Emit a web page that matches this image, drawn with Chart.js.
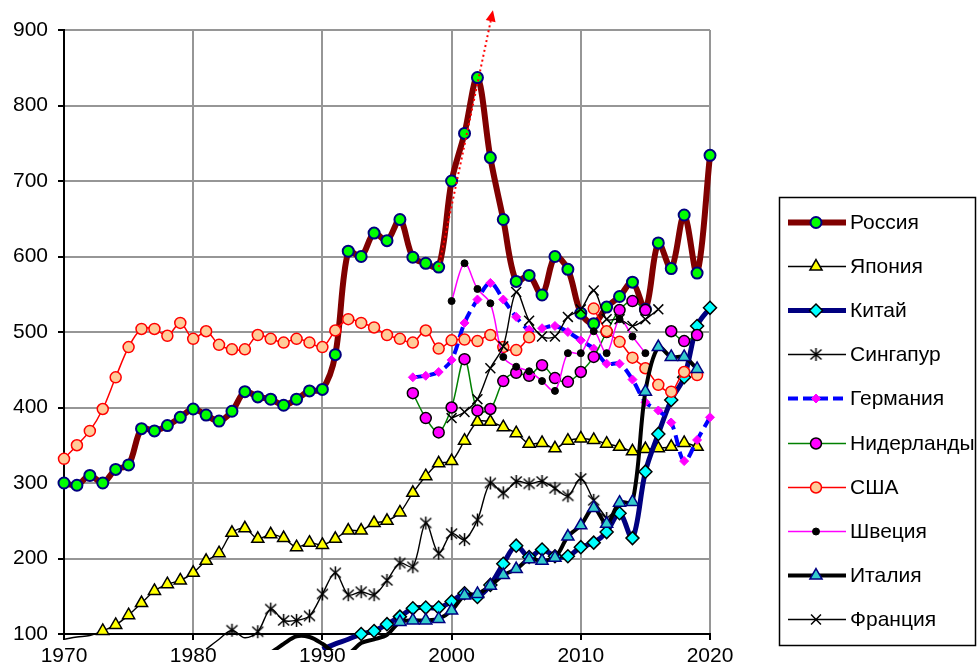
<!DOCTYPE html>
<html>
<head>
<meta charset="utf-8">
<script src="https://cdn.jsdelivr.net/npm/chart.js@4/dist/chart.umd.min.js"></script>
<style>
  body { margin: 0; background: #fff; }
  #wrap { width: 978px; height: 671px; }
</style>
</head>
<body>
<div id="wrap"><canvas id="chart" width="978" height="671"></canvas></div>
<script>
const years = [1970,1971,1972,1973,1974,1975,1976,1977,1978,1979,
  1980,1981,1982,1983,1984,1985,1986,1987,1988,1989,
  1990,1991,1992,1993,1994,1995,1996,1997,1998,1999,
  2000,2001,2002,2003,2004,2005,2006,2007,2008,2009,
  2010,2011,2012,2013,2014,2015,2016,2017,2018,2019,2020];

const names = ['Россия','Япония','Китай','Сингапур','Германия','Нидерланды','США','Швеция','Италия','Франция'];

// values per year, 1970..2020 (null = no data)
const russia = [300,297,310,300,318,324,372,369,376,387,
  398,390,382,395,421,414,411,403,411,422,
  424,470,607,600,631,621,649,599,591,586,
  700,763,837,731,649,567,575,549,600,583,
  525,511,533,547,566,530,618,584,655,578,734];
const japan = [93,96,98,104,112,125,141,157,166,171,
  181,197,207,234,240,226,232,227,215,221,
  218,226,237,237,247,250,261,287,309,326,
  329,356,381,381,374,366,352,353,346,356,
  359,357,352,348,342,345,346,348,353,348,null];
const china = [null,null,null,null,null,null,null,null,null,null,
  null,null,null,null,null,null,null,null,null,null,
  80,87,93,100,104,113,123,134,135,135,
  143,154,149,165,193,217,202,212,203,203,
  215,221,235,260,227,315,365,410,440,508,532];
const singapore = [null,null,null,null,null,null,null,null,null,null,
  null,80,93,105,95,103,133,118,118,124,
  153,181,152,156,152,171,194,189,247,207,
  233,225,251,300,287,302,299,302,293,283,
  306,277,253,null,null,null,null,null,null,null,null];
const germany = [null,null,null,null,null,null,null,null,null,null,
  null,null,null,null,null,null,null,null,null,null,
  null,null,null,null,null,null,null,440,442,447,
  463,512,543,565,543,520,503,505,508,500,
  489,478,458,458,437,407,396,380,329,357,387];
const netherlands = [null,null,null,null,null,null,null,null,null,null,
  null,null,null,null,null,null,null,null,null,null,
  null,null,null,null,null,null,null,419,386,367,
  400,464,396,398,435,446,442,456,439,434,
  447,467,500,529,541,529,null,501,488,496,null];
const usa = [332,350,369,398,440,480,504,504,495,512,
  491,501,483,477,477,496,491,486,491,486,
  480,502,517,512,506,496,491,486,502,478,
  489,490,488,496,480,476,493,null,null,null,
  null,531,501,487,466,452,430,421,447,443,null];
const sweden = [null,null,null,null,null,null,null,null,null,null,
  null,null,null,null,null,null,null,null,null,null,
  null,null,null,null,null,null,null,null,null,null,
  541,591,557,538,467,454,448,435,422,472,
  472,501,472,517,494,472,null,null,null,null,null];
const italy = [null,null,null,null,null,null,null,null,null,null,
  null,null,null,null,null,null,75,87,97,96,
  87,75,74,88,93,99,116,118,118,120,
  131,151,153,164,178,186,199,197,201,229,
  244,267,246,274,275,421,480,467,467,451,null];
const france = [null,null,null,null,null,null,null,null,null,null,
  null,null,null,null,null,null,null,null,null,null,
  null,null,null,null,null,null,null,null,null,null,
  386,394,411,452,481,553,515,494,494,520,
  530,555,517,517,508,517,530,null,null,null,null];

// dotted red trend arrow (from Russia 1999 upwards)
const trendStart = [1999, 586];
const trendEnd = [2003.2, 926];

const yTicks = [100, 900, 100];   // min, max, step
const xTicks = [1970, 2020, 10];

// Singapore asterisk marker
function asterisk() {
  const c = document.createElement('canvas');
  c.width = 15; c.height = 15;
  const g = c.getContext('2d');
  g.strokeStyle = '#000'; g.lineWidth = 1.5;
  g.beginPath();
  g.moveTo(7.5, 1); g.lineTo(7.5, 14);
  g.moveTo(2, 2.5); g.lineTo(13, 12.5);
  g.moveTo(13, 2.5); g.lineTo(2, 12.5);
  g.stroke();
  return c;
}
const starImg = asterisk();

const styles = [
  {line:'#800000', w:6,   style:'circle',   r:5.5, fill:'#00ff00', edge:'#000080', ew:2},
  {line:'#000000', w:1.4, style:'triangle', r:7,   fill:'#ffff00', edge:'#000000', ew:1.5},
  {line:'#000080', w:5,   style:'rectRot',  r:6.5, fill:'#00ffff', edge:'#000000', ew:1.5},
  {line:'#000000', w:1.4, style:starImg,    r:7,   fill:'#000000', edge:'#000000', ew:1},
  {line:'#0000ff', w:4,   style:'rectRot',  r:4.5, fill:'#ff00ff', edge:'#ff00ff', ew:1, dash:[11,6]},
  {line:'#008000', w:1.5, style:'circle',   r:5.5, fill:'#ff00ff', edge:'#000000', ew:1.5},
  {line:'#ff0000', w:1.5, style:'circle',   r:5.5, fill:'#ffcc99', edge:'#ff0000', ew:1.5},
  {line:'#ff00ff', w:1.5, style:'circle',   r:3.5, fill:'#000000', edge:'#000000', ew:1},
  {line:'#000000', w:4,   style:'triangle', r:7,   fill:'#33cccc', edge:'#000080', ew:1.5},
  {line:'#000000', w:1.4, style:'crossRot', r:7,   fill:'#000000', edge:'#000000', ew:1.5}
];
const values = [russia, japan, china, singapore, germany, netherlands, usa, sweden, italy, france];

const FONT = '"Liberation Sans", Arial, sans-serif';

const datasets = values.map((vals, i) => {
  const s = styles[i];
  return {
    label: names[i],
    data: years.map((yr, k) => ({x: yr, y: vals[k]})),
    borderColor: s.line,
    borderWidth: s.w,
    borderDash: s.dash || [],
    pointStyle: s.style,
    pointRadius: ctx => (ctx.raw && ctx.raw.y !== null && ctx.raw.y < yTicks[0]) ? 0 : s.r,
    pointBackgroundColor: s.fill,
    pointBorderColor: s.edge,
    pointBorderWidth: s.ew,
    tension: 0.33,
    spanGaps: false,
    fill: false,
    order: -i,
    clip: {left: 8, top: 8, right: 8, bottom: 16}
  };
});

const legendPlugin = {
  id: 'boxLegend',
  afterDraw(chart) {
    const ctx = chart.ctx;
    ctx.save();
    ctx.strokeStyle = '#000';
    ctx.lineWidth = 1.5;
    ctx.strokeRect(779.5, 197.5, 196, 448);
    ctx.font = '21px ' + FONT;
    ctx.textBaseline = 'middle';
    ctx.fillStyle = '#000';
    styles.forEach((s, i) => {
      const y = Math.round(222 + i * 44.1) + 0.5;
      ctx.strokeStyle = s.line;
      ctx.lineWidth = s.w < 2 ? 1.5 : s.w;
      ctx.setLineDash(s.dash ? [10, 5] : []);
      ctx.beginPath(); ctx.moveTo(788, y); ctx.lineTo(846, y); ctx.stroke();
      ctx.setLineDash([]);
      ctx.fillStyle = s.fill;
      ctx.strokeStyle = s.edge;
      ctx.lineWidth = s.ew;
      Chart.helpers.drawPoint(ctx, {pointStyle: s.style, radius: s.r, rotation: 0, borderWidth: s.ew}, 816, y);
      ctx.fillStyle = '#000';
      ctx.fillText(names[i], 850, y + 1);
    });
    ctx.restore();
  }
};

const arrowPlugin = {
  id: 'trendArrow',
  afterDatasetsDraw(chart) {
    const {x, y} = chart.scales;
    const ctx = chart.ctx;
    const x0 = x.getPixelForValue(trendStart[0]), y0 = y.getPixelForValue(trendStart[1]);
    const x1 = x.getPixelForValue(trendEnd[0]), y1 = y.getPixelForValue(trendEnd[1]);
    const ang = Math.atan2(y1 - y0, x1 - x0);
    const head = 11;
    const bx = x1 - head * Math.cos(ang), by = y1 - head * Math.sin(ang);
    ctx.save();
    ctx.strokeStyle = '#ff0000';
    ctx.fillStyle = '#ff0000';
    ctx.lineWidth = 2;
    ctx.setLineDash([2, 3]);
    ctx.beginPath(); ctx.moveTo(x0, y0); ctx.lineTo(bx, by); ctx.stroke();
    ctx.setLineDash([]);
    ctx.beginPath();
    ctx.moveTo(x1, y1);
    ctx.lineTo(bx + 5 * Math.sin(ang), by - 5 * Math.cos(ang));
    ctx.lineTo(bx - 5 * Math.sin(ang), by + 5 * Math.cos(ang));
    ctx.closePath(); ctx.fill();
    ctx.restore();
  }
};

new Chart(document.getElementById('chart'), {
  type: 'line',
  data: {datasets},
  plugins: [arrowPlugin, legendPlugin],
  options: {
    responsive: false,
    animation: false,
    layout: {padding: {top: 30, right: 268, left: 0, bottom: 0}},
    plugins: {legend: {display: false}, tooltip: {enabled: false}},
    scales: {
      x: {
        type: 'linear', min: xTicks[0], max: xTicks[1],
        ticks: {stepSize: xTicks[2], callback: v => String(v), color: '#000', font: {family: FONT, size: 21}, padding: 4, maxRotation: 0},
        grid: {color: '#969696', lineWidth: 2, tickColor: '#000', tickLength: 6},
        border: {color: '#000', width: 2},
        afterFit: s => { s.height = 37; }
      },
      y: {
        min: yTicks[0], max: yTicks[1],
        ticks: {stepSize: yTicks[2], callback: v => String(v), color: '#000', font: {family: FONT, size: 21}, padding: 10},
        grid: {color: '#969696', lineWidth: 2, tickColor: '#000', tickLength: 6},
        border: {color: '#000', width: 2},
        afterFit: s => { s.width = 64; }
      }
    }
  }
});
</script>
</body>
</html>
